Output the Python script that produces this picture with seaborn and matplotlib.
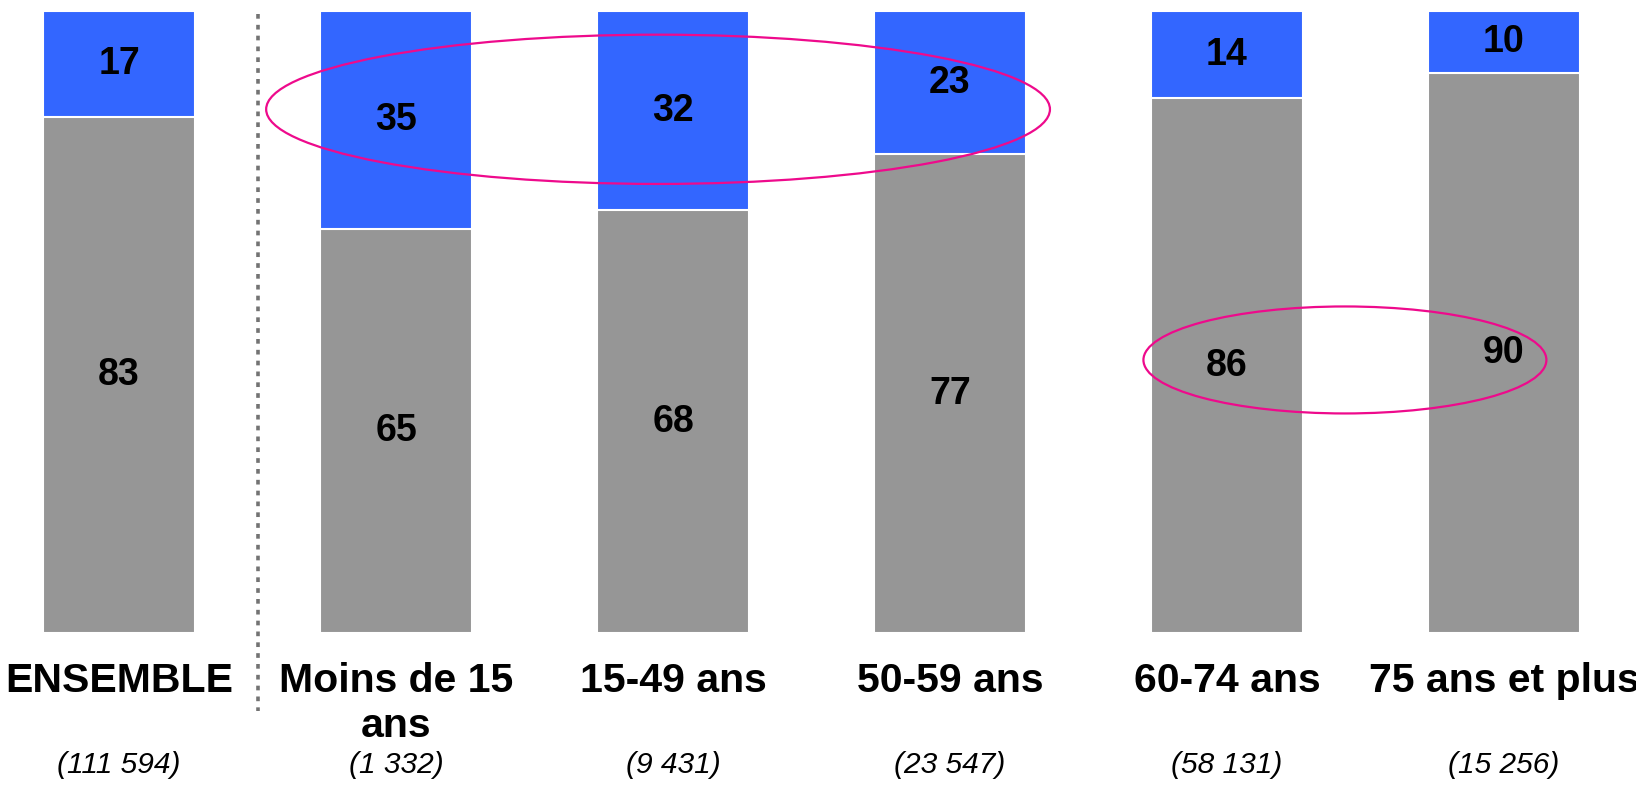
# %% Part des patients par tranche d'âge (barres empilées à 100 %)
import matplotlib
matplotlib.use('Agg')
import matplotlib.pyplot as plt
from matplotlib.patches import Ellipse
import seaborn as sns

# %% Données
categories = ['ENSEMBLE', 'Moins de 15\nans', '15-49 ans', '50-59 ans', '60-74 ans', '75 ans et plus']
blue_values = [17, 35, 32, 23, 14, 10]
grey_values = [83, 65, 68, 77, 86, 90]
effectifs = ['(111 594)', '(1 332)', '(9 431)', '(23 547)', '(58 131)', '(15 256)']

blue = '#3366FF'
grey = '#969696'
pink = '#EE0A8C'

sns.set_theme(style='white')
plt.rcParams['font.family'] = ['Liberation Sans', 'DejaVu Sans']
plt.rcParams['text.color'] = 'black'

fig = plt.figure(figsize=(16.36, 7.88), dpi=100)
ax = fig.add_axes([0, 0.1967, 1, 0.7893])

totals = [b + g for b, g in zip(blue_values, grey_values)]

# blue bar = total, grey bar drawn on top
sns.barplot(x=categories, y=totals, color=blue, saturation=1, width=0.55,
            edgecolor='white', linewidth=1.5, ax=ax)
sns.barplot(x=categories, y=grey_values, color=grey, saturation=1, width=0.55,
            edgecolor='white', linewidth=1.5, ax=ax)

ax.set_xlim(-0.43, 5.477)
ax.set_ylim(0, 100)
ax.axis('off')

# values in segments
for i in range(len(categories)):
    g = grey_values[i]
    b = blue_values[i]
    ax.text(i, g / 2, str(g), ha='center', va='center', fontsize=27, fontweight='bold')
    ax.text(i, g + b / 2, str(b), ha='center', va='center', fontsize=27, fontweight='bold')

# category labels and counts under the bars
for i in range(len(categories)):
    ax.text(i, -4.6, categories[i], ha='center', va='top', fontsize=29.5, fontweight='bold',
            linespacing=1.24, clip_on=False)
    ax.text(i, -21.2, effectifs[i], ha='center', va='center', fontsize=21.5, style='italic',
            clip_on=False)

# dotted separator after ENSEMBLE
ax.plot([0.5, 0.5], [99.5, -12.5], color='#737373', lw=2.6, linestyle=(0, (1.3, 1.7)),
        dash_capstyle='butt', clip_on=False)

# highlight ellipses
ax.add_patch(Ellipse((1.946, 84.2), 2.83, 24, fill=False, edgecolor=pink, lw=1.6, clip_on=False))
ax.add_patch(Ellipse((4.426, 43.9), 1.455, 17.2, fill=False, edgecolor=pink, lw=1.6, clip_on=False))

plt.savefig('out.png', dpi=100)
